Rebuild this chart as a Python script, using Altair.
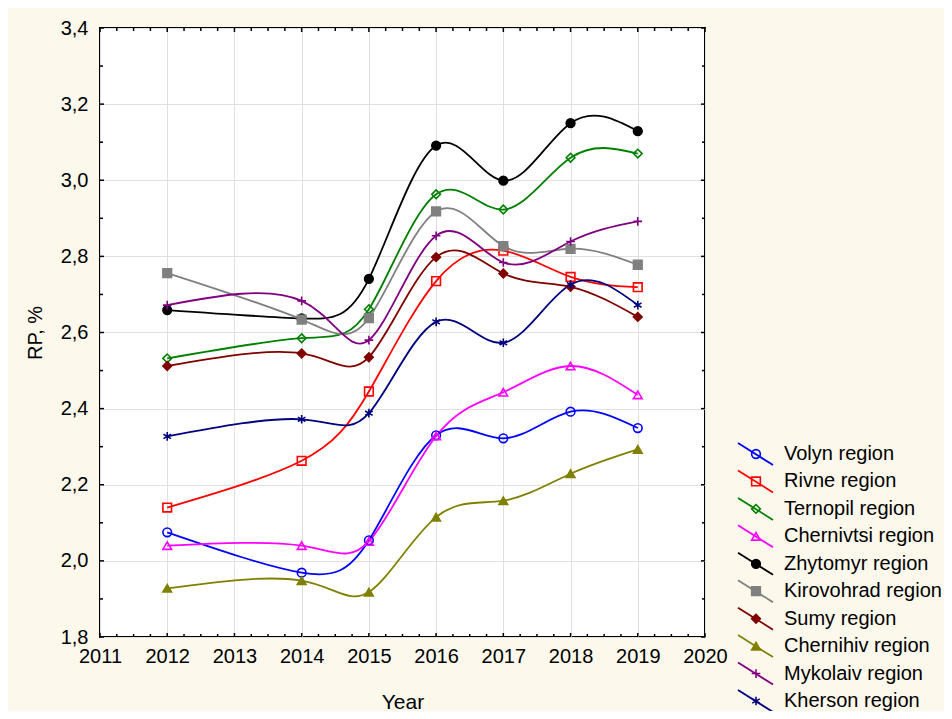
import altair as alt
import pandas as pd
import numpy as np

years = [2012, 2014, 2015, 2016, 2017, 2018, 2019]
regions = ["Volyn region", "Rivne region", "Ternopil region", "Chernivtsi region",
           "Zhytomyr region", "Kirovohrad region", "Sumy region", "Chernihiv region",
           "Mykolaiv region", "Kherson region"]
volyn = [2.075, 1.969, 2.054, 2.330, 2.322, 2.392, 2.349]
rivne = [2.140, 2.263, 2.445, 2.735, 2.815, 2.746, 2.719]
ternopil = [2.532, 2.585, 2.661, 2.963, 2.923, 3.059, 3.070]
chernivtsi = [2.040, 2.040, 2.051, 2.328, 2.443, 2.512, 2.436]
zhytomyr = [2.659, 2.637, 2.741, 3.091, 2.999, 3.150, 3.129]
kirovohrad = [2.756, 2.634, 2.638, 2.918, 2.827, 2.820, 2.778]
sumy = [2.512, 2.545, 2.535, 2.798, 2.755, 2.720, 2.641]
chernihiv = [1.928, 1.948, 1.918, 2.115, 2.158, 2.229, 2.293]
mykolaiv = [2.672, 2.683, 2.580, 2.854, 2.784, 2.839, 2.892]
kherson = [2.327, 2.372, 2.388, 2.628, 2.573, 2.726, 2.672]
series = [volyn, rivne, ternopil, chernivtsi, zhytomyr, kirovohrad, sumy,
          chernihiv, mykolaiv, kherson]

colors = ["#0000FF", "#FF0000", "#008000", "#FF00FF", "#000000",
          "#808080", "#800000", "#808000", "#800080", "#000080"]
fills = ["transparent", "transparent", "transparent", "transparent", "#000000",
         "#808080", "#800000", "#808000", "transparent", "transparent"]
shapes = ["circle", "square", "diamond", "triangle-up", "circle", "square",
          "diamond", "triangle-up", "M-1,0H1M0,-1V1",
          "M0,-1V1M-0.87,-0.5L0.87,0.5M-0.87,0.5L0.87,-0.5"]

x_major = list(range(2011, 2021))
x_minor = [2011 + i * 0.25 for i in range(37) if i % 4 != 0]
y_major = [1.8, 2.0, 2.2, 2.4, 2.6, 2.8, 3.0, 3.2, 3.4]
y_minor = [1.9, 2.1, 2.3, 2.5, 2.7, 2.9, 3.1, 3.3]

rows = []
for r, vals in zip(regions, series):
    for y, v in zip(years, vals):
        rows.append({"region": r, "year": y, "value": v})
df = pd.DataFrame(rows)

W, H = 605, 609
FONT = "Liberation Sans"

xscale = alt.Scale(domain=[2011, 2020], nice=False, zero=False)
yscale = alt.Scale(domain=[1.8, 3.4], nice=False, zero=False)
xaxis = alt.Axis(values=x_major, format="d", title="Year", grid=True, ticks=False,
                 domain=False, labelFontSize=20, labelPadding=9, labelColor="black",
                 titleFontSize=21, titleFontWeight="normal", titleColor="black",
                 titleY=71, titleBaseline="alphabetic", gridColor="#E0E0E0",
                 labelFlush=False)
yaxis = alt.Axis(values=y_major, format=".1f", title="RP, %", grid=True, ticks=False,
                 domain=False, labelFontSize=20, labelPadding=12, labelColor="black",
                 titleFontSize=20, titleFontWeight="normal", titleColor="black",
                 titleX=-65, titleY=H / 2, titleAngle=270, titleAlign="center",
                 titleBaseline="middle", gridColor="#E0E0E0", labelFlush=False)

stroke_enc = alt.Stroke("region:N", scale=alt.Scale(domain=regions, range=colors), legend=None)
fill_enc = alt.Fill("region:N", scale=alt.Scale(domain=regions, range=fills), legend=None)
shape_enc = alt.Shape("region:N", scale=alt.Scale(domain=regions, range=shapes), legend=None)

base = alt.Chart(df).encode(
    x=alt.X("year:Q", scale=xscale, axis=xaxis),
    y=alt.Y("value:Q", scale=yscale, axis=yaxis),
)
lines = base.mark_line(interpolate="natural", strokeWidth=1.8).encode(
    stroke=stroke_enc, detail="region:N")
points = base.mark_point(size=75, strokeWidth=1.6, opacity=1).encode(
    stroke=stroke_enc, fill=fill_enc, shape=shape_enc)

ydf_major = pd.DataFrame({"v": y_major})
ydf_minor = pd.DataFrame({"v": y_minor})
xdf_major = pd.DataFrame({"t": x_major})
xdf_minor = pd.DataFrame({"t": x_minor})

def yticks(d, ln):
    left = alt.Chart(d).mark_rule(color="black", strokeWidth=1.5).encode(
        y=alt.Y("v:Q", scale=yscale, axis=yaxis), x=alt.value(0), x2=alt.value(ln))
    right = alt.Chart(d).mark_rule(color="black", strokeWidth=1.5).encode(
        y=alt.Y("v:Q", scale=yscale, axis=yaxis), x=alt.value(W), x2=alt.value(W - ln))
    return [left, right]

def xticks(d, ln):
    bot = alt.Chart(d).mark_rule(color="black", strokeWidth=1.5).encode(
        x=alt.X("t:Q", scale=xscale, axis=xaxis), y=alt.value(H), y2=alt.value(H - ln))
    top = alt.Chart(d).mark_rule(color="black", strokeWidth=1.5).encode(
        x=alt.X("t:Q", scale=xscale, axis=xaxis), y=alt.value(0), y2=alt.value(ln))
    return [bot, top]

ticks = yticks(ydf_major, 4) + yticks(ydf_minor, 3) + xticks(xdf_major, 4) + xticks(xdf_minor, 3)

main = alt.layer(lines, points, *ticks)

ldf = pd.DataFrame({"region": regions})
lscale = alt.Scale(type="point", domain=regions, range=[426, 673], padding=0)
ly = alt.Y("region:N", scale=lscale, axis=None)
leg_line = alt.Chart(ldf).mark_rule(strokeWidth=1.8, yOffset=-11, y2Offset=11).encode(
    y=ly, y2=alt.Y2("region:N"), x=alt.value(638), x2=alt.value(673), stroke=stroke_enc)
leg_pt = alt.Chart(ldf).mark_point(size=75, strokeWidth=1.6, opacity=1).encode(
    y=ly, x=alt.value(656), stroke=stroke_enc, fill=fill_enc, shape=shape_enc)
leg_txt = alt.Chart(ldf).mark_text(align="left", baseline="middle", fontSize=20,
                                   color="black", font=FONT).encode(
    y=ly, x=alt.value(684), text="region:N")
legend = alt.layer(leg_line, leg_pt, leg_txt)

chart = alt.layer(main, legend).resolve_scale(y="independent").properties(
    width=W, height=H,
    padding={"left": 92, "top": 20, "right": 239, "bottom": 74},
    autosize=alt.AutoSizeParams(type="none"),
).configure(
    background="#FDF8EC", font=FONT,
    locale={"number": {"decimal": ",", "thousands": ".", "grouping": [3],
                       "currency": ["", ""]}},
).configure_view(fill="white", stroke="black", strokeWidth=2
).configure_scale(pointPadding=0)

chart.save("out.html", embed_options={"renderer": "svg", "actions": False})
